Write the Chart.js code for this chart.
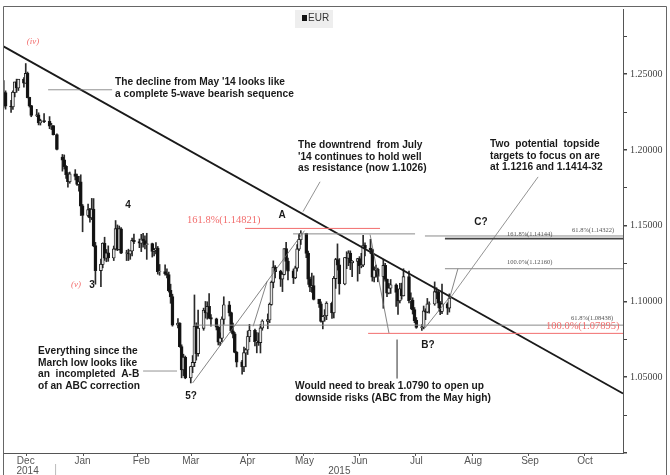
<!DOCTYPE html>
<html>
<head>
<meta charset="utf-8">
<script src="https://cdn.jsdelivr.net/npm/chart.js@4.4.0/dist/chart.umd.min.js"></script>
<style>
html,body{margin:0;padding:0;background:#fff;}
#wrap{position:relative;width:670px;height:475px;}
</style>
</head>
<body>
<div id="wrap"><canvas id="c" width="670" height="475"></canvas></div>
<script>
// EUR daily candles, Dec 2014 - Aug 2015
const dates = [
  '2014-12-04','2014-12-05','2014-12-08','2014-12-09','2014-12-10','2014-12-11','2014-12-12','2014-12-15','2014-12-16','2014-12-17',
  '2014-12-18','2014-12-19','2014-12-22','2014-12-23','2014-12-24','2014-12-26','2014-12-29','2014-12-30','2014-12-31',
  '2015-01-02','2015-01-05','2015-01-06','2015-01-07','2015-01-08','2015-01-09','2015-01-12','2015-01-13','2015-01-14','2015-01-15',
  '2015-01-16','2015-01-19','2015-01-20','2015-01-21','2015-01-22','2015-01-23','2015-01-26','2015-01-27','2015-01-28','2015-01-29','2015-01-30',
  '2015-02-02','2015-02-03','2015-02-04','2015-02-05','2015-02-06','2015-02-09','2015-02-10','2015-02-11','2015-02-12','2015-02-13',
  '2015-02-16','2015-02-17','2015-02-18','2015-02-19','2015-02-20','2015-02-23','2015-02-24','2015-02-25','2015-02-26','2015-02-27',
  '2015-03-02','2015-03-03','2015-03-04','2015-03-05','2015-03-06','2015-03-09','2015-03-10','2015-03-11','2015-03-12','2015-03-13',
  '2015-03-16','2015-03-17','2015-03-18','2015-03-19','2015-03-20','2015-03-23','2015-03-24','2015-03-25','2015-03-26','2015-03-27','2015-03-30','2015-03-31',
  '2015-04-01','2015-04-02','2015-04-03','2015-04-06','2015-04-07','2015-04-08','2015-04-09','2015-04-10','2015-04-13','2015-04-14',
  '2015-04-15','2015-04-16','2015-04-17','2015-04-20','2015-04-21','2015-04-22','2015-04-23','2015-04-24','2015-04-27','2015-04-28','2015-04-29','2015-04-30',
  '2015-05-01','2015-05-04','2015-05-05','2015-05-06','2015-05-07','2015-05-08','2015-05-11','2015-05-12','2015-05-13','2015-05-14','2015-05-15',
  '2015-05-18','2015-05-19','2015-05-20','2015-05-21','2015-05-22','2015-05-25','2015-05-26','2015-05-27','2015-05-28','2015-05-29',
  '2015-06-01','2015-06-02','2015-06-03','2015-06-04','2015-06-05','2015-06-08','2015-06-09','2015-06-10','2015-06-11','2015-06-12',
  '2015-06-15','2015-06-16','2015-06-17','2015-06-18','2015-06-19','2015-06-22','2015-06-23','2015-06-24','2015-06-25','2015-06-26','2015-06-29','2015-06-30',
  '2015-07-01','2015-07-02','2015-07-03','2015-07-06','2015-07-07','2015-07-08','2015-07-09','2015-07-10','2015-07-13','2015-07-14',
  '2015-07-15','2015-07-16','2015-07-17','2015-07-20','2015-07-21','2015-07-22','2015-07-23','2015-07-24','2015-07-27','2015-07-28',
  '2015-07-29','2015-07-30','2015-07-31','2015-08-03','2015-08-04'
];
const opens = [
  1.2311,1.2377,1.2288,1.2284,1.2379,1.2447,1.2409,1.2465,1.2440,1.2503,
  1.2345,1.2290,1.2227,1.2229,1.2178,1.2191,1.2186,1.2157,1.2159,
  1.2100,1.1950,1.1933,1.1890,1.1837,1.1790,1.1840,1.1826,1.1772,1.1788,
  1.1629,1.1567,1.1604,1.1552,1.1607,1.1367,1.1204,1.1244,1.1382,1.1285,1.1319,
  1.1287,1.1345,1.1479,1.1343,1.1478,1.1318,1.1319,1.1313,1.1333,1.1401,
  1.1393,1.1384,1.1410,1.1399,1.1375,1.1380,1.1331,1.1337,1.1350,1.1196,
  1.1196,1.1182,1.1175,1.1072,1.1030,1.0844,1.0855,1.0701,1.0549,1.0630,
  1.0496,1.0569,1.0596,1.0835,1.0656,1.0822,1.0940,1.0924,1.0966,1.0891,1.0883,1.0830,
  1.0731,1.0757,1.0882,1.0976,1.0924,1.0805,1.0784,1.0663,1.0600,1.0569,
  1.0660,1.0680,1.0767,1.0808,1.0735,1.0737,1.0728,1.0824,1.0869,1.0878,1.0980,1.1126,
  1.1225,1.1197,1.1147,1.1178,1.1347,1.1265,1.1200,1.1156,1.1220,1.1345,1.1407,
  1.1448,1.1317,1.1147,1.1095,1.1102,1.1014,1.0983,1.0869,1.0899,1.0906,
  1.0986,1.0925,1.1151,1.1275,1.1240,1.1115,1.1288,1.1285,1.1318,1.1255,
  1.1265,1.1281,1.1236,1.1240,1.1369,1.1350,1.1341,1.1160,1.1206,1.1210,1.1165,1.1236,
  1.1145,1.1055,1.1087,1.1108,1.1060,1.1004,1.1082,1.1037,1.1162,1.1005,
  1.1007,1.0945,1.0874,1.0829,1.0830,1.0936,1.0930,1.0982,1.0983,1.1063,
  1.1060,1.0988,1.0934,1.0982,1.0956
];
const highs = [
  1.2457,1.2390,1.2328,1.2390,1.2447,1.2467,1.2463,1.2478,1.2570,1.2514,
  1.2348,1.2294,1.2268,1.2245,1.2203,1.2240,1.2220,1.2176,1.2160,
  1.2106,1.1970,1.1967,1.1897,1.1850,1.1854,1.1870,1.1840,1.1826,1.1836,
  1.1640,1.1643,1.1614,1.1680,1.1679,1.1390,1.1280,1.1387,1.1424,1.1343,1.1367,
  1.1366,1.1534,1.1505,1.1498,1.1488,1.1338,1.1345,1.1334,1.1419,1.1445,
  1.1412,1.1443,1.1449,1.1433,1.1450,1.1385,1.1345,1.1389,1.1363,1.1244,
  1.1241,1.1215,1.1194,1.1114,1.1048,1.0887,1.0860,1.0714,1.0652,1.0640,
  1.0573,1.0643,1.1043,1.0859,1.0943,1.0956,1.1000,1.0998,1.1052,1.0913,1.0890,1.0835,
  1.0793,1.0898,1.1031,1.1000,1.0930,1.0858,1.0796,1.0670,1.0612,1.0699,
  1.0690,1.0805,1.0849,1.0818,1.0795,1.0793,1.0849,1.0879,1.0918,1.0990,1.1135,1.1268,
  1.1237,1.1206,1.1190,1.1347,1.1391,1.1287,1.1214,1.1233,1.1376,1.1445,1.1467,
  1.1450,1.1333,1.1161,1.1187,1.1169,1.1014,1.0997,1.0904,1.0946,1.0998,
  1.0996,1.1165,1.1285,1.1380,1.1283,1.1290,1.1328,1.1335,1.1334,1.1270,
  1.1285,1.1296,1.1318,1.1436,1.1387,1.1410,1.1345,1.1229,1.1240,1.1220,1.1278,1.1252,
  1.1148,1.1119,1.1145,1.1117,1.1081,1.1120,1.1121,1.1216,1.1200,1.1057,
  1.1024,1.0960,1.0894,1.0848,1.0970,1.0952,1.1020,1.0997,1.1129,1.1091,
  1.1071,1.1000,1.1114,1.0992,1.1050
];
const lows = [
  1.2280,1.2269,1.2247,1.2267,1.2350,1.2380,1.2392,1.2414,1.2440,1.2343,
  1.2283,1.2219,1.2220,1.2165,1.2164,1.2180,1.2140,1.2134,1.2098,
  1.2000,1.1860,1.1874,1.1812,1.1754,1.1780,1.1802,1.1766,1.1728,1.1567,
  1.1460,1.1558,1.1523,1.1540,1.1361,1.1114,1.1098,1.1222,1.1271,1.1262,1.1265,
  1.1270,1.1339,1.1335,1.1340,1.1315,1.1270,1.1270,1.1278,1.1301,1.1381,
  1.1355,1.1329,1.1358,1.1347,1.1278,1.1293,1.1300,1.1313,1.1180,1.1173,
  1.1174,1.1155,1.1062,1.0988,1.0837,1.0826,1.0698,1.0496,1.0510,1.0490,
  1.0462,1.0530,1.0570,1.0613,1.0639,1.0810,1.0890,1.0883,1.0887,1.0837,1.0812,1.0713,
  1.0710,1.0735,1.0849,1.0904,1.0795,1.0760,1.0661,1.0568,1.0520,1.0536,
  1.0569,1.0650,1.0734,1.0706,1.0661,1.0710,1.0660,1.0810,1.0820,1.0860,1.0975,1.1090,
  1.1155,1.1099,1.1065,1.1175,1.1212,1.1142,1.1118,1.1150,1.1200,1.1335,1.1376,
  1.1289,1.1112,1.1064,1.1060,1.1010,1.0960,1.0864,1.0819,1.0870,1.0880,
  1.0888,1.0891,1.1086,1.1207,1.1048,1.1110,1.1216,1.1236,1.1210,1.1164,
  1.1134,1.1183,1.1222,1.1229,1.1301,1.1315,1.1134,1.1129,1.1160,1.1130,1.0955,1.1134,
  1.1032,1.1050,1.1053,1.0968,1.0915,1.0990,1.1015,1.1036,1.0990,1.0951,
  1.0917,1.0860,1.0823,1.0809,1.0819,1.0880,1.0925,1.0922,1.0975,1.1018,
  1.0958,1.0913,1.0920,1.0914,1.0930
];
const closes = [
  1.2377,1.2288,1.2284,1.2379,1.2447,1.2409,1.2465,1.2440,1.2503,1.2345,
  1.2290,1.2227,1.2229,1.2178,1.2191,1.2186,1.2157,1.2159,1.2100,
  1.2004,1.1933,1.1890,1.1837,1.1790,1.1840,1.1826,1.1772,1.1788,1.1629,
  1.1567,1.1604,1.1552,1.1607,1.1367,1.1204,1.1244,1.1382,1.1285,1.1319,1.1287,
  1.1345,1.1479,1.1343,1.1478,1.1318,1.1319,1.1313,1.1333,1.1401,1.1393,
  1.1384,1.1410,1.1399,1.1375,1.1380,1.1331,1.1337,1.1350,1.1196,1.1196,
  1.1182,1.1175,1.1072,1.1030,1.0844,1.0855,1.0701,1.0549,1.0630,1.0496,
  1.0569,1.0596,1.0835,1.0656,1.0822,1.0940,1.0924,1.0966,1.0891,1.0883,1.0830,1.0731,
  1.0757,1.0882,1.0976,1.0924,1.0805,1.0784,1.0663,1.0600,1.0569,1.0660,
  1.0680,1.0767,1.0808,1.0735,1.0737,1.0728,1.0824,1.0869,1.0878,1.0980,1.1126,1.1225,
  1.1197,1.1147,1.1178,1.1347,1.1265,1.1200,1.1156,1.1220,1.1345,1.1407,1.1448,
  1.1317,1.1147,1.1095,1.1102,1.1014,1.0983,1.0869,1.0899,1.0906,1.0986,
  1.0925,1.1151,1.1275,1.1240,1.1115,1.1288,1.1285,1.1318,1.1255,1.1265,
  1.1281,1.1236,1.1240,1.1369,1.1350,1.1341,1.1160,1.1206,1.1210,1.1165,1.1236,1.1145,
  1.1055,1.1087,1.1108,1.1060,1.1004,1.1082,1.1037,1.1162,1.1005,1.1007,
  1.0945,1.0874,1.0829,1.0830,1.0936,1.0930,1.0982,1.0983,1.1063,1.1060,
  1.0988,1.0934,1.0982,1.0956,1.1020
];

// x values are calendar days counted from 1 Dec 2014
const xMin = 2.6, xMax = 340.7;
const yMin = 1.0, yMax = 1.293;
const monthStarts = [31, 62, 90, 121, 151, 182, 212, 243, 274, 304, 335];
const monthNames = ['Dec','Jan','Feb','Mar','Apr','May','Jun','Jul','Aug','Sep','Oct'];
const monthMid = [15, 46, 78, 105, 136, 167, 197, 228, 259, 290, 320];
const yearNames = ['2014', '2015'];
const yearMid = [16, 186];

// downtrend from July '14
const trendDays = [2.6, 340.7];
const trendPrices = [1.2685, 1.0393];

// Fibonacci levels: [label, price, from day, to day]
const fibLabels = ['161.8%(1.14821)', '', '61.8%(1.14322)', '161.8%(1.14144)', '100.0%(1.12160)', '61.8%(1.08438)', '100.0%(1.07895)'];
const fibPrices = [1.14821, 1.1446, 1.14322, 1.14144, 1.12160, 1.08438, 1.07895];
const fibFrom = [134.6, 160.8, 232.7, 243.6, 243.6, 106.4, 201.7];
const fibTo = [208.2, 227.3, 340.7, 340.7, 340.7, 340.7, 340.7];

// thin wave lines
const waveDays = [[106, 167], [139, 146.6], [202.8, 213.1], [232.7, 246.4], [246.4, 250.7]];
const wavePrices = [[1.0462, 1.1467], [1.0836, 1.1132], [1.1441, 1.0790], [1.0825, 1.1033], [1.1033, 1.1217]];

// pointer lines from the comments
const pointerDays = [[27.2, 62.1], [175.5, 166.2], [294.4, 246.4], [79, 97.5], [217.5, 217.5]];
const pointerPrices = [[1.2397, 1.2397], [1.1790, 1.1593], [1.1822, 1.1021], [1.0541, 1.0541], [1.0748, 1.0492]];

const base = Date.UTC(2014, 11, 1);
const dayOf = s => {
  const [y, m, d] = s.split('-').map(Number);
  return (Date.UTC(y, m - 1, d) - base) / 86400000;
};
const xs = dates.map(dayOf);

const wickData = xs.map((x, i) => ({x, y: [lows[i], highs[i]]}));
const bodyData = xs.map((x, i) => ({x, y: [Math.min(opens[i], closes[i]), Math.max(opens[i], closes[i]) + 0.0002]}));
const bodyColors = xs.map((x, i) => closes[i] >= opens[i] ? '#e4e4e4' : '#111111');

const lineDs = (days, prices, color, width) => ({
  type: 'line',
  data: days.map((d, i) => ({x: d, y: prices[i]})),
  borderColor: color, borderWidth: width,
  pointRadius: 0, fill: false, tension: 0, order: 0
});

const datasets = [
  {type: 'bar', data: wickData, backgroundColor: '#2a2a2a', barThickness: 1, grouped: false, order: 3},
  {type: 'bar', data: bodyData, backgroundColor: bodyColors, borderColor: '#1a1a1a', borderWidth: 0.9, borderSkipped: false, barThickness: 3, grouped: false, order: 2}
];
fibPrices.forEach((p, i) => {
  const red = i === 0 || i === 6;
  const col = red ? '#f26d6d' : (i === 3 ? '#444' : '#8a8a8a');
  datasets.push(lineDs([fibFrom[i], fibTo[i]], [p, p], col, i === 3 ? 1.6 : 1));
});
waveDays.forEach((d, i) => datasets.push(lineDs(d, wavePrices[i], '#666', 0.8)));
pointerDays.forEach((d, i) => datasets.push(lineDs(d, pointerPrices[i], '#777', 0.8)));
datasets.push(lineDs(trendDays, trendPrices, '#1a1a1a', 1.8));

// comment texts (pixel layout)
const notes = [
  {t: ['The decline from May \'14 looks like', 'a complete 5-wave bearish sequence'], x: 115, y: 82},
  {t: ['The downtrend  from July', '\'14 continues to hold well', 'as resistance (now 1.1026)'], x: 298, y: 145},
  {t: ['Two  potential  topside', 'targets to focus on are', 'at 1.1216 and 1.1414-32'], x: 490, y: 144},
  {t: ['Everything since the', 'March low looks like', 'an  incompleted  A-B', 'of an ABC correction'], x: 38, y: 351},
  {t: ['Would need to break 1.0790 to open up', 'downside risks (ABC from the May high)'], x: 295, y: 386}
];
const waveLabels = [
  {t: '(iv)', x: 33, y: 42, red: true},
  {t: '4', x: 128, y: 205},
  {t: '(v)', x: 76, y: 285, red: true},
  {t: '3', x: 92, y: 285},
  {t: 'A', x: 282, y: 215},
  {t: 'C?', x: 481, y: 222},
  {t: 'B?', x: 428, y: 345},
  {t: '5?', x: 191, y: 396}
];

const decor = {
  id: 'decor',
  afterDraw(chart) {
    const ctx = chart.ctx, sx = chart.scales.x;
    ctx.save();
    // outer frame
    ctx.strokeStyle = '#666'; ctx.lineWidth = 1;
    ctx.beginPath();
    ctx.moveTo(3.5, 475); ctx.lineTo(3.5, 6.5); ctx.lineTo(666.5, 6.5); ctx.lineTo(666.5, 475);
    ctx.stroke();
    // month + year labels
    ctx.fillStyle = '#555'; ctx.font = '10px "Liberation Sans", Arial, sans-serif';
    ctx.textAlign = 'center'; ctx.textBaseline = 'middle';
    monthNames.forEach((m, i) => ctx.fillText(m, sx.getPixelForValue(monthMid[i]), 461));
    yearNames.forEach((y, i) => ctx.fillText(y, sx.getPixelForValue(yearMid[i]), 471));
    ctx.strokeStyle = '#bbb';
    ctx.beginPath(); ctx.moveTo(sx.getPixelForValue(31) + 0.5, 464); ctx.lineTo(sx.getPixelForValue(31) + 0.5, 475); ctx.stroke();
    // legend
    ctx.fillStyle = '#eeeeee'; ctx.fillRect(295, 10, 38, 18);
    ctx.fillStyle = '#111'; ctx.fillRect(302, 15, 5, 6);
    ctx.fillStyle = '#333'; ctx.textAlign = 'left'; ctx.font = '10px "Liberation Sans", Arial, sans-serif';
    ctx.fillText('EUR', 308, 18.5);
    // comments
    ctx.fillStyle = '#1a1a1a'; ctx.font = 'bold 10.2px "Liberation Sans", Arial, sans-serif';
    notes.forEach(n => n.t.forEach((line, j) => ctx.fillText(line, n.x, n.y + j * 11.8)));
    waveLabels.forEach(w => {
      ctx.fillStyle = w.red ? '#f26d6d' : '#1a1a1a';
      ctx.font = w.red ? 'italic 9px "Liberation Serif", serif' : 'bold 10px "Liberation Sans", Arial, sans-serif';
      ctx.textAlign = 'center';
      ctx.fillText(w.t, w.x, w.y);
    });
    // fib level labels
    ctx.textAlign = 'left';
    ctx.fillStyle = '#f26d6d'; ctx.font = '10.5px "Liberation Serif", serif';
    ctx.fillText(fibLabels[0], 187, 220);
    ctx.fillText(fibLabels[6], 546, 326);
    ctx.fillStyle = '#555'; ctx.font = '6.5px "Liberation Serif", serif';
    ctx.fillText(fibLabels[2], 572, 230);
    ctx.fillText(fibLabels[3], 507, 234);
    ctx.fillText(fibLabels[4], 507, 262);
    ctx.fillText(fibLabels[5], 571, 318);
    ctx.restore();
  }
};

new Chart(document.getElementById('c'), {
  type: 'bar',
  data: {datasets},
  options: {
    responsive: false,
    animation: false,
    layout: {padding: {left: 3, top: 6, right: 4, bottom: 0}},
    plugins: {legend: {display: false}, tooltip: {enabled: false}},
    scales: {
      x: {
        type: 'linear', min: xMin, max: xMax, offset: false,
        afterBuildTicks: axis => { axis.ticks = monthStarts.map(v => ({value: v})); },
        afterFit: axis => { axis.height = 22; },
        ticks: {callback: () => '', maxRotation: 0},
        grid: {drawOnChartArea: false, tickLength: 3, color: '#555'},
        border: {color: '#555', width: 1}
      },
      y: {
        position: 'right', min: yMin, max: yMax,
        afterBuildTicks: axis => {
          const t = [];
          for (let k = 0; k <= 11; k++) t.push({value: 1 + k * 0.025});
          axis.ticks = t;
        },
        afterFit: axis => { axis.width = 43; },
        ticks: {
          padding: 3, color: '#444', font: {family: '"Liberation Serif", serif', size: 10},
          callback: v => {
            const k = Math.round(v * 1000);
            return (k % 50 === 0 && k >= 1050) ? v.toFixed(5) : '';
          }
        },
        grid: {drawOnChartArea: false, tickLength: 4, color: '#444', lineWidth: c => (Math.round(c.tick.value * 1000) % 50 === 0 ? 1.5 : 1)},
        border: {color: '#555', width: 1}
      }
    }
  },
  plugins: [decor]
});
</script>
</body>
</html>
